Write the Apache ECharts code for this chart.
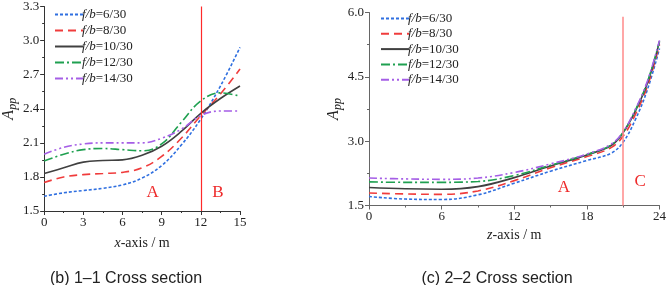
<!DOCTYPE html>
<html>
<head>
<meta charset="utf-8">
<script src="https://cdn.jsdelivr.net/npm/echarts@6/dist/echarts.min.js"></script>
<style>
  html, body { margin: 0; padding: 0; background: #fff; }
  #chart { width: 669px; height: 285px; }
</style>
</head>
<body>
<div id="chart"></div>
<script>
// (b) 1-1 cross section, x-axis / m
const xB = [0, 1.5, 3, 4.5, 6, 7.5, 9, 10.5, 12, 13.5, 15]
const b6 = [1.63, 1.66, 1.68, 1.70, 1.73, 1.79, 1.90, 2.08, 2.31, 2.60, 2.94]
const b8 = [1.75, 1.80, 1.82, 1.83, 1.84, 1.88, 1.98, 2.14, 2.34, 2.53, 2.75]
const b10 = [1.83, 1.88, 1.93, 1.945, 1.95, 1.99, 2.07, 2.20, 2.36, 2.49, 2.60]
const b12 = [1.94, 2.00, 2.04, 2.05, 2.04, 2.03, 2.09, 2.28, 2.47, 2.54, 2.51]
const b14 = [2.00, 2.06, 2.09, 2.10, 2.10, 2.10, 2.14, 2.22, 2.34, 2.38, 2.38]

// (c) 2-2 cross section, z-axis / m
const xC = [0, 3, 6, 9, 12, 15, 18, 20, 21, 22, 23, 24]
const c6 = [1.71, 1.65, 1.64, 1.75, 2.02, 2.30, 2.55, 2.72, 2.98, 3.50, 4.20, 5.16]
const c8 = [1.79, 1.77, 1.76, 1.84, 2.08, 2.38, 2.64, 2.85, 3.12, 3.62, 4.28, 5.25]
const c10 = [1.92, 1.89, 1.88, 1.94, 2.15, 2.42, 2.68, 2.90, 3.20, 3.70, 4.35, 5.32]
const c12 = [2.05, 2.04, 2.04, 2.06, 2.20, 2.44, 2.69, 2.91, 3.21, 3.72, 4.38, 5.33]
const c14 = [2.14, 2.12, 2.11, 2.14, 2.27, 2.47, 2.70, 2.93, 3.22, 3.74, 4.40, 5.35]

const names = ['f/b=6/30', 'f/b=8/30', 'f/b=10/30', 'f/b=12/30', 'f/b=14/30']
const colors = ['#2f6fe0', '#f03c3c', '#404040', '#1fa050', '#a55ee6']
const dashes = [[3, 2], [8, 5], 'solid', [9, 3, 2, 3], [8, 3, 2, 3, 2, 3]]

const serif = 'Liberation Serif'

function zip(xs, ys) {
  return xs.map((x, i) => [x, ys[i]])
}

function makeSeries(xs, sets, idx) {
  return sets.map((ys, i) => ({
    name: names[i],
    type: 'line',
    xAxisIndex: idx,
    yAxisIndex: idx,
    data: zip(xs, ys),
    smooth: 0.4,
    symbol: 'none',
    lineStyle: { color: colors[i], width: 1.6, type: dashes[i] },
    itemStyle: { color: colors[i] }
  }))
}

function valueAxis(idx, min, max, interval, axisColor) {
  return {
    type: 'value',
    gridIndex: idx,
    min, max, interval,
    axisLine: { show: true, lineStyle: { color: axisColor, width: 1 } },
    axisTick: { show: true, length: 4, lineStyle: { color: axisColor } },
    minorTick: { show: true, splitNumber: 2, length: 2, lineStyle: { color: axisColor } },
    splitLine: { show: false },
    axisLabel: { color: '#222', fontFamily: serif, fontSize: 13, margin: 5 }
  }
}

const ypp = {
  a: { fontFamily: serif, fontStyle: 'italic', fontSize: 16, color: '#222' },
  s: { fontFamily: serif, fontStyle: 'italic', fontSize: 12, color: '#222', padding: [8, 0, 0, 0] }
}

const seriesB = makeSeries(xB, [b6, b8, b10, b12, b14], 0)
const seriesC = makeSeries(xC, [c6, c8, c10, c12, c14], 1)

// zone boundary lines and zone labels (attached to the red series)
function zoneLine(x, y0, y1, color, width) {
  return {
    silent: true, symbol: 'none', label: { show: false },
    emphasis: { disabled: true },
    lineStyle: { color, width, type: 'solid', opacity: 1 },
    data: [[{ coord: [x, y0] }, { coord: [x, y1] }]]
  }
}
function zoneLabels(items) {
  return {
    symbolSize: 0,
    label: { show: true, color: '#ee2a2a', fontFamily: serif, fontSize: 17, formatter: '{b}' },
    data: items
  }
}
seriesB[1].markLine = zoneLine(12, 1.5, 3.3, '#ff2a2a', 1.2)
seriesB[1].markPoint = zoneLabels([{ name: 'A', coord: [8.3, 1.66] }, { name: 'B', coord: [13.3, 1.66] }])
seriesC[1].markLine = zoneLine(21, 1.5, 5.9, '#ff8a8a', 1.5)
seriesC[1].markPoint = zoneLabels([{ name: 'A', coord: [16.1, 1.93] }, { name: 'C', coord: [22.4, 2.05] }])

function legend(left, top, gap) {
  return {
    data: names,
    orient: 'vertical',
    left, top,
    padding: 0,
    itemWidth: 28,
    itemHeight: 12,
    itemGap: gap,
    itemStyle: { opacity: 0 },
    formatter: (n) => '{i|f/b}' + n.slice(3),
    textStyle: {
      color: '#222', fontFamily: serif, fontSize: 13, padding: [0, 0, 0, -6],
      rich: { i: { fontFamily: serif, fontStyle: 'italic', fontSize: 13, color: '#222' } }
    }
  }
}

const chart = echarts.init(document.getElementById('chart'))
chart.setOption({
  animation: false,
  title: [
    { text: '(b) 1\u20131 Cross section', left: 121, top: 266, textAlign: 'center',
      textStyle: { fontFamily: 'Liberation Sans', fontSize: 16, fontWeight: 'normal', color: '#222' } },
    { text: '(c) 2\u20132 Cross section', left: 492, top: 266, textAlign: 'center',
      textStyle: { fontFamily: 'Liberation Sans', fontSize: 16, fontWeight: 'normal', color: '#222' } }
  ],
  legend: [legend(54, 8, 3), legend(380, 12, 2.3)],
  grid: [
    { left: 43, top: 5, width: 197, height: 206 },
    { left: 369, top: 12.5, width: 293, height: 193 }
  ],
  xAxis: [
    Object.assign(valueAxis(0, 0, 15, 3, '#333'), {
      name: '{i|x}-axis / m', nameLocation: 'middle', nameGap: 25,
      nameTextStyle: { fontFamily: serif, fontSize: 14, color: '#222',
        rich: { i: { fontFamily: serif, fontStyle: 'italic', fontSize: 14, color: '#222' } } }
    }),
    Object.assign(valueAxis(1, 0, 24, 6, '#666'), {
      name: '{i|z}-axis / m', nameLocation: 'middle', nameGap: 23,
      nameTextStyle: { fontFamily: serif, fontSize: 14, color: '#222',
        rich: { i: { fontFamily: serif, fontStyle: 'italic', fontSize: 14, color: '#222' } } }
    })
  ],
  yAxis: [
    Object.assign(valueAxis(0, 1.5, 3.3, 0.3, '#333'), {
      name: '{a|A}{s|pp}', nameLocation: 'middle', nameGap: 16, nameRotate: 90,
      nameTextStyle: { rich: ypp },
      axisLabel: { color: '#222', fontFamily: serif, fontSize: 13, margin: 5, formatter: (v) => v.toFixed(1) }
    }),
    Object.assign(valueAxis(1, 1.5, 6.0, 1.5, '#666'), {
      name: '{a|A}{s|pp}', nameLocation: 'middle', nameGap: 25, nameRotate: 90,
      nameTextStyle: { rich: ypp },
      axisLabel: { color: '#222', fontFamily: serif, fontSize: 13, margin: 5, formatter: (v) => v.toFixed(1) }
    })
  ],
  series: seriesB.concat(seriesC)
})
</script>
</body>
</html>
